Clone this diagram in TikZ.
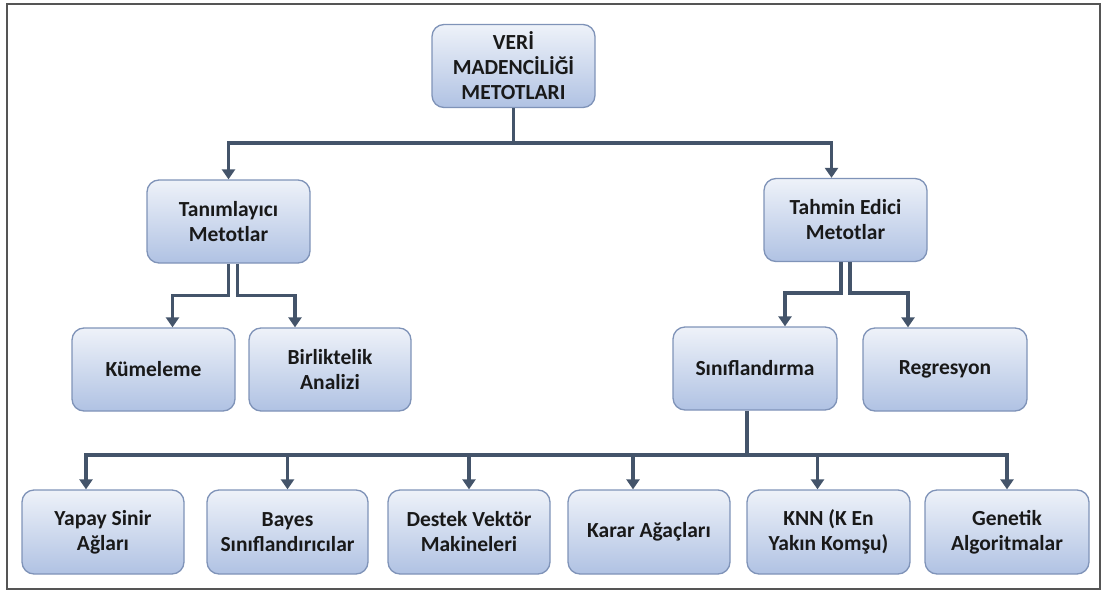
\documentclass[tikz,border=0pt]{standalone}
\usepackage{fontspec}
\setmainfont{Carlito}
\usetikzlibrary{arrows.meta}
\definecolor{boxborder}{HTML}{7F93B8}
\definecolor{boxtop}{HTML}{EEF2F9}
\definecolor{boxbot}{HTML}{B0C2E3}
\definecolor{linecol}{HTML}{44546A}
\definecolor{framecol}{HTML}{555555}
\begin{document}
\begin{tikzpicture}[x=1pt,y=-1pt,
  box/.style={draw=boxborder, line width=1.3pt, rounded corners=12pt,
    top color=boxtop, bottom color=boxbot, minimum width=163pt,
    minimum height=83pt, align=center, inner sep=2pt,
    font=\fontsize{21.5}{25}\selectfont\bfseries, text=black!90},
  conn/.style={draw=linecol, line width=3.6pt, -{Triangle[length=10pt,width=13pt]}},
  trunk/.style={draw=linecol, line width=3.6pt}]
\useasboundingbox (0,0) rectangle (1103,594);
\draw[framecol, line width=2pt] (7,4) rectangle (1100,589);

\node[box] (top) at (513.5,66) {VERİ\\MADENCİLİĞİ\\METOTLARI};
\node[box] (tan) at (228.5,221.5) {Tanımlayıcı\\Metotlar};
\node[box] (tah) at (845.5,220) {Tahmin Edici\\Metotlar};
\node[box] (kum) at (153.5,369.5) {Kümeleme};
\node[box, minimum width=162pt] (bir) at (330,369.5) {Birliktelik\\Analizi};
\node[box, minimum width=164pt] (sin) at (755,368.5) {Sınıflandırma};
\node[box, minimum width=164pt] (reg) at (945,369.5) {Regresyon};

\node[box, minimum width=162pt, minimum height=84pt] (yap) at (103,532) {Yapay Sinir\\Ağları};
\node[box, minimum width=161pt, minimum height=84pt] (bay) at (287.5,532) {Bayes\\Sınıflandırıcılar};
\node[box, minimum width=162pt, minimum height=84pt] (des) at (469,532) {Destek Vektör\\Makineleri};
\node[box, minimum width=162pt, minimum height=84pt] (kar) at (649,532) {Karar Ağaçları};
\node[box, minimum width=163pt, minimum height=84pt] (knn) at (828.5,532) {KNN (K En\\Yakın Komşu)};
\node[box, minimum width=164pt, minimum height=84pt] (gen) at (1007,532) {Genetik\\Algoritmalar};

% top level
\coordinate (h1) at (513.5,143);
\draw[trunk] (top.south) -- (h1);
\draw[conn] (h1) -| (tan.north);
\draw[conn] (h1) -| ([xshift=-14pt]tah.north);

% Tanimlayici
\draw[conn] (tan.south) -- ++(0,32) -| ([xshift=19pt]kum.north);
\draw[conn] ([xshift=9pt]tan.south) -- ++(0,32) -| ([xshift=-35pt]bir.north);

% Tahmin
\draw[conn] ([xshift=-4.5pt]tah.south) -- ++(0,31) -| ([xshift=30pt]sin.north);
\draw[conn] ([xshift=4.5pt]tah.south) -- ++(0,31) -| ([xshift=-37pt]reg.north);

% Siniflandirma
\coordinate (h3) at (747,455);
\draw[trunk] ([xshift=-8pt]sin.south) -- (h3);
\draw[conn] (h3) -| ([xshift=-17pt]yap.north);
\draw[conn] (h3) -| (bay.north);
\draw[conn] (h3) -| (des.north);
\draw[conn] (h3) -| ([xshift=-16pt]kar.north);
\draw[conn] (h3) -| ([xshift=-11pt]knn.north);
\draw[conn] (h3) -| (gen.north);
\end{tikzpicture}
\end{document}
